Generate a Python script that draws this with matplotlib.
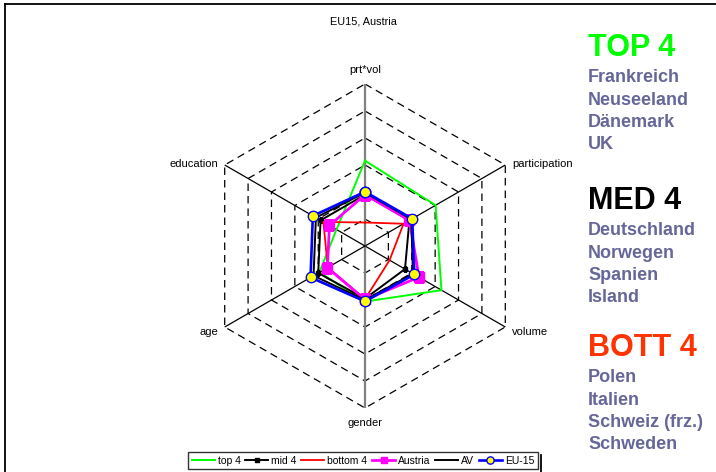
import numpy as np
import matplotlib
matplotlib.use("Agg")
import matplotlib.pyplot as plt
from matplotlib.lines import Line2D

plt.rcParams['font.family'] = ['Liberation Sans', 'DejaVu Sans']

# ---------------- data ----------------
categories = ['prt*vol', 'participation', 'volume', 'gender', 'age', 'education']
top4    = [3.16, 3.02, 3.27, 2.06, 1.95, 1.22]
mid4    = [1.90, 1.90, 1.71, 1.95, 2.00, 1.90]
bottom4 = [0.87, 1.65, 1.05, 1.97, 1.59, 1.78]
austria = [1.90, 1.90, 2.31, 1.98, 1.61, 1.52]
av      = [1.98, 1.98, 2.05, 2.00, 2.20, 2.10]
eu15    = [2.01, 2.02, 2.11, 2.05, 2.33, 2.23]
levels  = [1, 2, 3, 4, 5, 6]

title = 'EU15, Austria'
groups = [
    ('TOP 4', '#00FF00', ['Frankreich', 'Neuseeland', 'Dänemark', 'UK']),
    ('MED 4', '#000000', ['Deutschland', 'Norwegen', 'Spanien', 'Island']),
    ('BOTT 4', '#FF3300', ['Polen', 'Italien', 'Schweiz (frz.)', 'Schweden']),
]

# ---------------- figure ----------------
W, H = 716, 472
fig = plt.figure(figsize=(W / 100, H / 100), dpi=100)
fig.patch.set_facecolor('white')

cx, cy, R = 365, 246, 162
ax = fig.add_axes([(cx - R) / W, (H - cy - R) / H, 2 * R / W, 2 * R / H],
                  projection='polar')
ax.set_theta_offset(np.pi / 2)
ax.set_theta_direction(-1)
ax.set_ylim(0, levels[-1])
ax.grid(False)
ax.spines['polar'].set_visible(False)
ax.set_xticks([])
ax.set_yticks([])
ax.patch.set_alpha(0)

n = len(categories)
theta = np.arange(n) * 2 * np.pi / n
theta_c = np.concatenate([theta, theta[:1]])

def closed(v):
    return np.concatenate([v, v[:1]])

# dashed hexagonal grid
for lv in levels:
    ax.plot(theta_c, [lv] * (n + 1), color='black', lw=0.9,
            linestyle=(0, (6, 4)), zorder=1)

# axes spokes
for i, t in enumerate(theta):
    if categories[i] in ('prt*vol', 'gender'):
        ax.plot([t, t], [0, levels[-1]], color='#808080', lw=1.6, zorder=1.5)
    else:
        ax.plot([t, t], [0, levels[-1]], color='black', lw=0.9, zorder=1.5)

# category labels
offsets = {
    'prt*vol': (0, 10, 'center', 'center'),
    'participation': (5, 1, 'left', 'center'),
    'volume': (5, -3.5, 'left', 'center'),
    'gender': (0, -11, 'center', 'center'),
    'age': (-5, -3.5, 'right', 'center'),
    'education': (-5, 1, 'right', 'center'),
}
for i, c in enumerate(categories):
    dx, dy, ha, va = offsets[c]
    ax.annotate(c, xy=(theta[i], levels[-1]), xytext=(dx, dy),
                textcoords='offset points', ha=ha, va=va, fontsize=8,
                annotation_clip=False)

# series
ax.plot(theta_c, closed(np.array(top4)), color='#00FF00', lw=1.4,
        label='top 4', zorder=3)
ax.plot(theta_c, closed(np.array(mid4)), color='black', lw=1.4,
        marker='s', ms=3.5, label='mid 4', zorder=3)
ax.plot(theta_c, closed(np.array(bottom4)), color='#FF0000', lw=1.3,
        label='bottom 4', zorder=3)
ax.plot(theta_c, closed(np.array(austria)), color='#FF00FF', lw=2.0,
        marker='s', ms=6.5, label='Austria', zorder=3)
ax.plot(theta_c, closed(np.array(av)), color='black', lw=1.4,
        label='AV', zorder=3)
ax.plot(theta_c, closed(np.array(eu15)), color='#0000FF', lw=1.9,
        marker='o', ms=7.5, mfc='#FFFF00', mec='#0000FF', mew=1.0,
        label='EU-15', zorder=4)

# title
fig.text(363 / W, 1 - 22 / H, title, ha='center', va='center', fontsize=7.8)

# legend
handles, labels = ax.get_legend_handles_labels()
leg = fig.legend(handles, labels, loc='center', ncol=6,
                 bbox_to_anchor=(363 / W, 1 - 460.5 / H), fontsize=7.5,
                 frameon=True, fancybox=False, edgecolor='black',
                 handlelength=2.2, handletextpad=0.3, columnspacing=0.45,
                 borderpad=0.35, borderaxespad=0, markerscale=0.7)
leg.get_frame().set_linewidth(1.0)

# frame lines of chart area
fig.add_artist(Line2D([5 / W, 1], [1 - 4 / H, 1 - 4 / H], color='black', lw=1.3))
fig.add_artist(Line2D([5 / W, 5 / W], [0, 1 - 4 / H], color='black', lw=1.3))
fig.add_artist(Line2D([541 / W, 541 / W], [0, 1 - 455 / H], color='black', lw=1.3))

# right-hand text block
x0 = 588 / W
head_y = [48, 201, 348]
for (head, col, names), hy in zip(groups, head_y):
    fig.text(x0, 1 - hy / H, head, color=col, fontsize=22, fontweight='bold',
             ha='left', va='center')
    for k, nm in enumerate(names):
        yy = hy + 30 + k * 22.3
        fig.text(x0, 1 - yy / H, nm, color='#666699', fontsize=13,
                 fontweight='bold', ha='left', va='center')

fig.savefig('out.png', dpi=100, facecolor='white')
